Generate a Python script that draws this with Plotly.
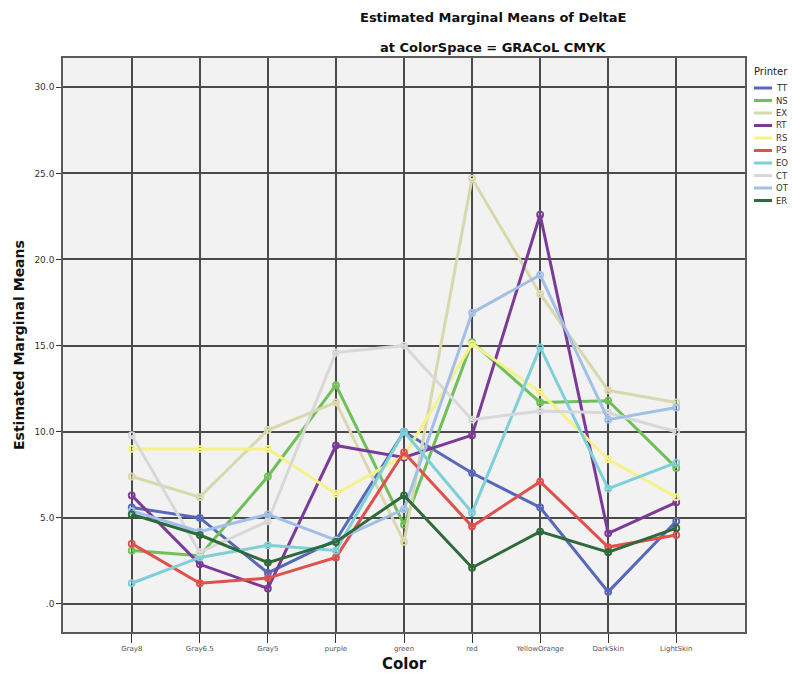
import plotly.graph_objects as go

# Colour categories on the x axis
colors = ["Gray8", "Gray6.5", "Gray5", "purple", "green", "red",
          "YellowOrange", "DarkSkin", "LightSkin"]

# Estimated marginal means of DeltaE per printer
TT = [5.6, 5.0, 1.8, 3.7, 10.0, 7.6, 5.6, 0.7, 4.8]
NS = [3.1, 2.8, 7.4, 12.7, 4.6, 15.2, 11.7, 11.8, 7.9]
EX = [7.4, 6.2, 10.1, 11.7, 3.6, 24.7, 18.0, 12.4, 11.7]
RT = [6.3, 2.3, 0.9, 9.2, 8.5, 9.8, 22.6, 4.1, 5.9]
RS = [9.0, 9.0, 9.0, 6.4, 8.6, 15.1, 12.3, 8.4, 6.2]
PS = [3.5, 1.2, 1.5, 2.7, 8.8, 4.5, 7.1, 3.3, 4.0]
EO = [1.2, 2.7, 3.4, 3.1, 10.0, 5.3, 14.9, 6.7, 8.2]
CT = [9.8, 3.0, 4.8, 14.6, 15.0, 10.7, 11.2, 11.1, 10.0]
OT = [5.4, 4.2, 5.2, 3.7, 5.5, 16.9, 19.1, 10.7, 11.4]
ER = [5.2, 4.0, 2.4, 3.6, 6.3, 2.1, 4.2, 3.0, 4.4]

printers = ["TT", "NS", "EX", "RT", "RS", "PS", "EO", "CT", "OT", "ER"]
series = [TT, NS, EX, RT, RS, PS, EO, CT, OT, ER]
line_colors = ["#5868B8", "#70C058", "#D8D8AC", "#7B3A97", "#F6F28A",
               "#E0504C", "#7ECFD7", "#D8D8D8", "#A2BFE6", "#2E6A3A"]

y_ticks = [0, 5, 10, 15, 20, 25, 30]
y_tick_text = [".0", "5.0", "10.0", "15.0", "20.0", "25.0", "30.0"]

W, H = 792, 675
ML, MR, MT, MB = 63, 47, 58, 43

fig = go.Figure()
for name, vals, col in zip(printers, series, line_colors):
    fig.add_trace(go.Scatter(
        x=colors, y=vals, name=name, mode="lines+markers",
        line=dict(color=col, width=3),
        marker=dict(symbol="circle-open", size=6, color=col,
                    line=dict(color=col, width=1.8)),
        showlegend=False,
    ))

grid = "#4A4A4A"
fig.update_xaxes(
    type="category", range=[-1.01, 9.01],
    showgrid=True, gridcolor=grid, gridwidth=1.5,
    showline=True, linecolor="#5A5A5A", linewidth=1.5, mirror=True,
    ticks="outside", ticklen=9, tickwidth=1.2, tickcolor="#333",
    tickfont=dict(family="DejaVu Sans", size=7, color="#555"),
    zeroline=False,
)
fig.update_yaxes(
    range=[-1.63, 31.7],
    tickvals=y_ticks, ticktext=y_tick_text,
    showgrid=True, gridcolor=grid, gridwidth=1.5,
    showline=True, linecolor="#5A5A5A", linewidth=1.5, mirror=True,
    ticks="outside", ticklen=5, tickwidth=1.2, tickcolor="#333",
    tickfont=dict(family="DejaVu Sans", size=9, color="#333"),
    zeroline=False,
)

annotations = [
    dict(text="<b>Estimated Marginal Means of DeltaE</b>", x=493, y=18,
         font=dict(family="DejaVu Sans", size=13, color="#111")),
    dict(text="<b>at ColorSpace = GRACoL CMYK</b>", x=493, y=47,
         font=dict(family="DejaVu Sans", size=13, color="#111")),
    dict(text="<b>Color</b>", x=404, y=664,
         font=dict(family="DejaVu Sans", size=15, color="#111")),
    dict(text="<b>Estimated Marginal Means</b>", x=19, y=345, textangle=-90,
         font=dict(family="DejaVu Sans", size=14, color="#111")),
    dict(text="Printer", x=752, y=71, xanchor="left",
         font=dict(family="DejaVu Sans", size=10, color="#222")),
]

shapes = []
for i, (name, col) in enumerate(zip(printers, line_colors)):
    yy = 88 + i * 12.5
    shapes.append(dict(type="line", xref="paper", yref="paper",
                       x0=754, x1=772, y0=yy, y1=yy,
                       line=dict(color=col, width=3)))
    annotations.append(dict(text=name, x=774, y=yy, xanchor="left",
                            font=dict(family="DejaVu Sans", size=8.5, color="#333")))

# convert pixel positions (from the top-left corner) into paper fractions
pw, ph = W - ML - MR, H - MT - MB
for a in annotations:
    a["x"] = (a["x"] - ML) / pw
    a["y"] = (H - a["y"] - MB) / ph
    a.setdefault("xanchor", "center")
    a["yanchor"] = "middle"
    a["xref"] = "paper"
    a["yref"] = "paper"
    a["showarrow"] = False
for s in shapes:
    s["x0"] = (s["x0"] - ML) / pw
    s["x1"] = (s["x1"] - ML) / pw
    s["y0"] = (H - s["y0"] - MB) / ph
    s["y1"] = (H - s["y1"] - MB) / ph

fig.update_layout(
    width=W, height=H, autosize=False,
    margin=dict(l=ML, r=MR, t=MT, b=MB),
    paper_bgcolor="white", plot_bgcolor="#F2F2F2",
    annotations=annotations, shapes=shapes,
    showlegend=False,
)

fig.write_html("out.html", include_plotlyjs=True,
               config={"displayModeBar": False})
